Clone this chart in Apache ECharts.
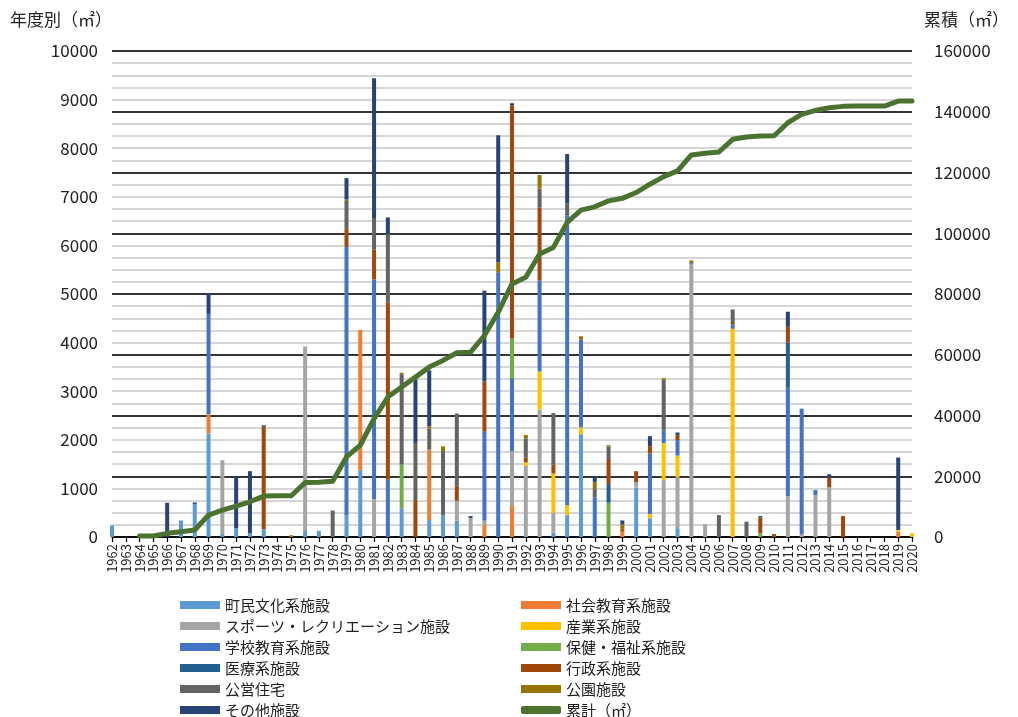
<!DOCTYPE html>
<html>
<head>
<meta charset="utf-8">
<script src="https://cdn.jsdelivr.net/npm/echarts@6/dist/echarts.min.js"></script>
<style>
html,body{margin:0;padding:0;background:#fff}
#chart{width:1018px;height:717px}
</style>
</head>
<body>
<div id="chart"></div>
<script>
// 年度（1962〜2020）
const years = [
  '1962','1963','1964','1965','1966','1967','1968','1969','1970','1971',
  '1972','1973','1974','1975','1976','1977','1978','1979','1980','1981',
  '1982','1983','1984','1985','1986','1987','1988','1989','1990','1991',
  '1992','1993','1994','1995','1996','1997','1998','1999','2000','2001',
  '2002','2003','2004','2005','2006','2007','2008','2009','2010','2011',
  '2012','2013','2014','2015','2016','2017','2018','2019','2020'
];

// 施設分類別の年度別延床面積（㎡）
const bunka = [
  240,0,0,0,0,340,680,2130,60,180,
  80,160,0,0,125,125,0,450,1375,0,
  0,590,0,350,450,335,0,0,0,0,
  0,0,90,450,2115,0,0,0,1020,385,
  0,180,0,0,0,0,0,0,0,0,
  0,0,0,0,0,0,0,0,0
];
const shakai = [
  0,0,0,0,0,0,0,390,0,0,
  0,0,0,0,0,0,0,0,2890,0,
  0,0,0,1450,0,0,0,245,0,635,
  0,0,0,0,0,0,0,110,0,0,
  0,0,0,0,0,0,0,0,0,0,
  0,0,0,0,0,0,0,110,0
];
const sports = [
  0,0,0,0,0,0,0,0,1520,0,
  0,0,0,0,3795,0,0,0,0,775,
  0,0,0,0,0,410,390,90,0,1130,
  1460,2620,405,0,0,0,0,0,110,0,
  1170,1050,5620,265,0,0,0,0,0,840,
  60,860,1020,0,0,0,0,0,0
];
const sangyo = [
  0,0,0,0,0,0,0,0,0,0,
  0,0,0,0,0,0,0,0,0,0,
  0,0,0,0,0,0,0,0,0,0,
  75,785,810,205,140,0,0,0,0,90,
  765,445,0,0,0,4285,0,0,0,0,
  0,0,0,0,0,0,0,35,80
];
const gakko = [
  0,0,0,0,0,0,0,2070,0,0,
  0,0,0,0,0,0,0,5520,0,4525,
  1185,0,0,0,0,0,0,1845,5445,1505,
  0,1870,0,5955,1805,815,0,0,0,1245,
  260,320,20,0,0,90,0,0,0,2230,
  2580,105,0,0,0,0,0,0,0
];
const hoken = [
  0,0,0,0,0,0,0,0,0,0,
  0,0,0,0,0,0,0,0,0,0,
  0,900,0,0,0,0,0,0,0,810,
  0,0,0,0,0,0,705,0,0,0,
  0,0,0,0,0,0,0,75,0,0,
  0,0,0,0,0,0,0,0,0
];
const iryo = [
  0,0,0,0,0,0,0,0,0,0,
  0,0,0,0,0,0,0,0,0,0,
  0,0,0,0,0,0,0,0,0,0,
  0,0,0,0,0,0,385,0,0,0,
  0,0,0,0,0,0,0,0,0,935,
  0,0,0,0,0,0,0,0,0
];
const gyosei = [
  0,0,0,0,0,0,0,0,0,0,
  0,2110,0,0,0,0,0,365,0,610,
  3635,0,760,0,0,310,0,1020,0,4805,
  95,1505,185,0,0,0,515,50,225,150,
  0,105,0,0,0,50,0,330,60,320,
  0,0,205,430,0,0,0,0,0
];
const jutaku = [
  0,0,0,0,0,0,0,0,0,0,
  0,0,0,0,0,0,545,580,0,655,
  1415,1860,1175,430,1320,1485,0,0,0,0,
  400,390,1060,255,0,170,255,0,0,0,
  1040,0,0,0,450,255,315,0,0,0,
  0,0,0,0,0,0,0,0,0
];
const koen = [
  0,0,0,0,0,0,0,0,0,0,
  0,0,0,35,0,0,0,30,0,0,
  0,30,0,50,95,0,0,0,205,0,
  70,280,0,0,70,150,30,100,0,0,
  35,0,50,0,0,0,0,0,0,0,
  0,0,0,0,0,0,0,0,0
];
const sonota = [
  0,0,0,0,705,0,30,430,0,1050,
  1275,30,0,0,0,0,0,440,0,2875,
  340,0,1310,1150,0,0,40,1870,2615,40,
  0,0,0,1015,0,100,0,80,0,205,
  0,50,0,0,0,0,0,25,0,310,
  0,0,65,0,0,0,0,1490,0
];

// 累計（㎡）
const cumulative = [
  null,null,330,330,1200,1750,2300,7220,8870,10180,
  11600,13460,13600,13600,17960,18060,18390,26370,30210,38980,
  46080,49360,52640,55930,58130,60650,60860,66340,73990,83310,
  85490,93170,95340,103550,107610,108700,110670,111500,113400,116150,
  118650,120520,125780,126330,126760,130930,131690,132020,132100,136390,
  139150,140460,141310,141770,141880,141880,141880,143510,143510
];

const FONT = '"Noto Sans CJK JP", "Noto Sans", sans-serif';

const barDefs = [
  { name: '町民文化系施設', data: bunka, color: '#5B9BD5' },
  { name: '社会教育系施設', data: shakai, color: '#ED7D31' },
  { name: 'スポーツ・レクリエーション施設', data: sports, color: '#A5A5A5' },
  { name: '産業系施設', data: sangyo, color: '#FFC000' },
  { name: '学校教育系施設', data: gakko, color: '#4472C4' },
  { name: '保健・福祉系施設', data: hoken, color: '#70AD47' },
  { name: '医療系施設', data: iryo, color: '#255E91' },
  { name: '行政系施設', data: gyosei, color: '#9E480E' },
  { name: '公営住宅', data: jutaku, color: '#636363' },
  { name: '公園施設', data: koen, color: '#997300' },
  { name: 'その他施設', data: sonota, color: '#264478' }
];
const lineName = '累計（㎡）';
const lineColor = '#4b7330';

const series = barDefs.map(d => ({
  name: d.name,
  type: 'bar',
  stack: 'area',
  barWidth: 4,
  data: d.data,
  itemStyle: { color: d.color },
  emphasis: { disabled: true },
  z: 2
}));
series.push({
  name: lineName,
  type: 'line',
  yAxisIndex: 1,
  data: cumulative,
  symbol: 'none',
  connectNulls: false,
  lineStyle: { width: 5, color: lineColor, cap: 'round', join: 'round' },
  itemStyle: { color: lineColor },
  emphasis: { disabled: true },
  z: 5
});

const leftNames = ['町民文化系施設', 'スポーツ・レクリエーション施設', '学校教育系施設', '医療系施設', '公営住宅', 'その他施設'];
const rightNames = ['社会教育系施設', '産業系施設', '保健・福祉系施設', '行政系施設', '公園施設', lineName];
const legendItem = n => (n === lineName ? { name: n, icon: 'roundRect' } : { name: n, icon: 'rect' });
const legendBase = {
  orient: 'vertical',
  top: 597,
  height: 140,
  itemWidth: 40,
  itemHeight: 8,
  itemGap: 5,
  padding: 0,
  selectedMode: false,
  textStyle: { fontFamily: FONT, fontSize: 15, color: '#222', lineHeight: 16 }
};

const chart = echarts.init(document.getElementById('chart'), null, { renderer: 'canvas' });
chart.setOption({
  animation: false,
  backgroundColor: '#fff',
  textStyle: { fontFamily: FONT },
  grid: { left: 112, right: 106, top: 51, bottom: 180, containLabel: false },
  legend: [
    Object.assign({ left: 180, data: leftNames.map(legendItem) }, legendBase),
    Object.assign({ left: 521, data: rightNames.map(legendItem) }, legendBase)
  ],
  graphic: [
    { type: 'text', left: 10, top: 11, style: { text: '年度別（㎡）', font: '17px ' + FONT, fill: '#222' } },
    { type: 'text', left: 924, top: 11, style: { text: '累積（㎡）', font: '17px ' + FONT, fill: '#222' } }
  ],
  xAxis: {
    type: 'category',
    data: years,
    boundaryGap: false,
    axisLine: { lineStyle: { color: '#000', width: 1.5 } },
    axisTick: { show: true, interval: 0, length: 5, lineStyle: { color: '#000', width: 1.2 } },
    axisLabel: { interval: 0, rotate: 90, fontSize: 13, color: '#222', margin: 7, fontFamily: FONT },
    splitLine: { show: false }
  },
  yAxis: [
    {
      type: 'value',
      min: 0,
      max: 10000,
      interval: 250,
      z: 0,
      axisLine: { show: false },
      axisTick: { show: false },
      axisLabel: {
        fontSize: 17,
        color: '#222',
        margin: 14,
        fontFamily: FONT,
        formatter: v => (v % 1000 === 0 ? String(v) : '')
      },
      splitLine: { show: true, lineStyle: { color: '#d6d6d6', width: 2 } }
    },
    {
      type: 'value',
      min: 0,
      max: 160000,
      interval: 20000,
      z: 1,
      axisLine: { show: false },
      axisTick: { show: false },
      axisLabel: { fontSize: 17, color: '#222', margin: 22, fontFamily: FONT, formatter: v => String(v) },
      splitLine: { show: true, lineStyle: { color: '#000', width: 1.6 } }
    }
  ],
  series: series
});
</script>
</body>
</html>
